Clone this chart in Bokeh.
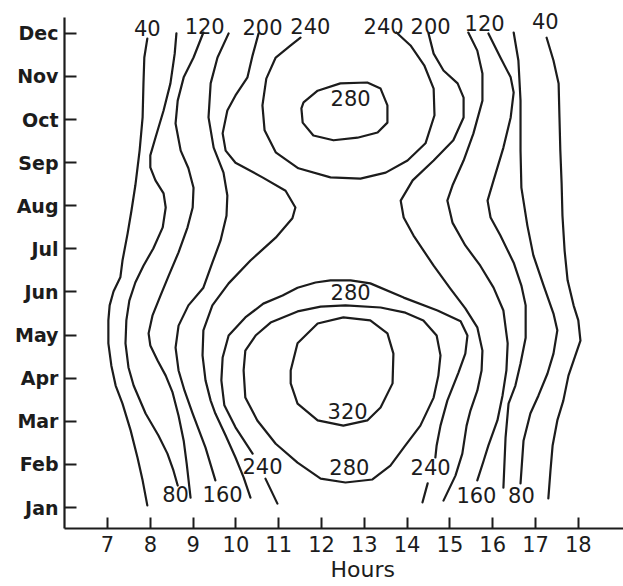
from bokeh.plotting import figure
from bokeh.models import Range1d, FixedTicker, Title, ColumnDataSource
from bokeh.embed import file_html
from bokeh.resources import INLINE
from bokeh.core.properties import value

NAN = float("nan")

MONTHS = ["Jan", "Feb", "Mar", "Apr", "May", "Jun", "Jul", "Aug", "Sep", "Oct", "Nov", "Dec"]
MONTH_POS = [1, 2, 3, 4, 5, 6, 7, 8, 9, 10, 11, 12]
HOUR_TICKS = [7, 8, 9, 10, 11, 12, 13, 14, 15, 16, 17, 18]

# ---- isolines (hours, month) ----
C40_W_H = [7.93, 7.86, 7.84, 7.82, 7.75, 7.65, 7.56, 7.47, 7.35, 7.30, 7.14, 7.05, 7.02, 7.02, 7.09, 7.19, 7.35, 7.54, 7.70, 7.82, 7.93]
C40_W_M = [11.88, 11.44, 10.84, 10.05, 9.28, 8.47, 7.89, 7.36, 6.73, 6.34, 6.01, 5.69, 5.34, 4.81, 4.29, 3.83, 3.41, 2.79, 2.16, 1.63, 1.05]

C80_W_H = [8.61, 8.57, 8.47, 8.31, 8.12, 8.00, 8.00, 8.12, 8.31, 8.36, 8.29, 8.07, 7.84, 7.65, 7.51, 7.44, 7.42, 7.49, 7.61, 7.89, 8.19, 8.40, 8.54, 8.64]
C80_W_M = [12.00, 11.53, 10.84, 10.21, 9.58, 9.17, 8.89, 8.59, 8.29, 7.96, 7.50, 7.01, 6.61, 6.22, 5.80, 5.34, 4.81, 4.25, 3.83, 3.18, 2.67, 2.25, 1.86, 1.51]

C120_W_H = [9.24, 9.01, 8.78, 8.64, 8.59, 8.71, 8.89, 9.01, 8.99, 8.87, 8.66, 8.43, 8.24, 8.05, 7.96, 8.00, 8.17, 8.36, 8.52, 8.66, 8.78, 8.85, 8.94]
C120_W_M = [12.02, 11.44, 10.98, 10.44, 9.91, 9.28, 8.87, 8.42, 7.96, 7.50, 6.92, 6.38, 5.92, 5.45, 5.04, 4.76, 4.41, 4.06, 3.67, 3.13, 2.55, 2.02, 1.23]

C160_W_H = [9.83, 9.57, 9.41, 9.36, 9.48, 9.71, 9.80, 9.78, 9.64, 9.45, 9.24, 8.89, 8.66, 8.59, 8.66, 8.80, 8.99, 9.29, 9.52]
C160_W_M = [12.00, 11.44, 10.84, 10.05, 9.35, 8.77, 8.24, 7.77, 7.19, 6.68, 6.10, 5.69, 5.22, 4.71, 4.18, 3.71, 3.18, 2.39, 1.63]

C200_W_H = [10.53, 10.39, 10.27, 9.99, 9.80, 9.69, 9.76, 9.99, 10.62, 11.16, 11.39, 11.32, 10.93, 10.34, 9.83, 9.45, 9.24, 9.22, 9.29, 9.41, 9.52, 9.76, 9.99, 10.18, 10.34]
C200_W_M = [12.00, 11.49, 10.98, 10.56, 10.21, 9.68, 9.28, 9.00, 8.66, 8.35, 7.96, 7.71, 7.26, 6.73, 6.20, 5.69, 5.11, 4.53, 3.95, 3.48, 3.18, 2.67, 2.16, 1.70, 1.23]

C240_N_H = [11.51, 11.28, 10.93, 10.71, 10.62, 10.67, 10.93, 11.46, 12.21, 12.91, 13.50, 14.01, 14.43, 14.64, 14.62, 14.40, 14.08, 13.75]
C240_N_M = [11.90, 11.72, 11.44, 10.95, 10.33, 9.75, 9.24, 8.87, 8.66, 8.63, 8.77, 9.05, 9.45, 10.10, 10.72, 11.26, 11.72, 12.02]

C280_N_H = [11.58, 11.91, 12.44, 13.07, 13.38, 13.54, 13.54, 13.31, 12.84, 12.28, 11.81, 11.56, 11.53, 11.58]
C280_N_M = [10.40, 10.67, 10.84, 10.86, 10.72, 10.33, 9.93, 9.70, 9.58, 9.52, 9.63, 9.93, 10.26, 10.40]

C240_S_H = [10.97, 10.69, NAN, 10.39, 9.99, 9.73, 9.66, 9.69, 9.83, 10.22, 10.64, 11.09, 11.44, 11.86, 12.21, 12.68, 13.14, 13.92, 14.71, 15.25, 15.41, 15.36, 15.20, 14.94, 14.78, 14.69, 14.66, NAN, 14.48, 14.36]
C240_S_M = [1.09, 1.67, NAN, 2.25, 2.86, 3.37, 3.95, 4.48, 4.99, 5.41, 5.73, 5.92, 6.10, 6.22, 6.27, 6.27, 6.20, 5.87, 5.57, 5.32, 4.99, 4.57, 4.13, 3.48, 2.90, 2.44, 2.16, NAN, 1.56, 1.12]

C280_S_H = [10.18, 10.22, 10.46, 10.81, 11.44, 11.98, 12.56, 13.38, 13.96, 14.38, 14.69, 14.78, 14.73, 14.62, 14.31, 13.96, 13.61, 13.19, 12.56, 11.98, 11.44, 10.93, 10.50, 10.22, 10.18]
C280_S_M = [4.18, 4.64, 4.99, 5.29, 5.55, 5.66, 5.69, 5.64, 5.52, 5.34, 4.99, 4.53, 4.06, 3.55, 2.90, 2.44, 1.97, 1.65, 1.58, 1.67, 2.04, 2.48, 3.02, 3.55, 4.18]

C320_H = [11.28, 11.44, 11.91, 12.51, 13.14, 13.54, 13.68, 13.66, 13.38, 13.07, 12.51, 11.91, 11.44, 11.28, 11.28]
C320_M = [4.18, 4.81, 5.27, 5.41, 5.34, 5.04, 4.57, 3.88, 3.32, 3.02, 2.90, 3.02, 3.41, 3.88, 4.18]

C200_E_H = [14.50, 14.62, 14.85, 15.18, 15.32, 15.32, 15.08, 14.62, 14.13, 13.85, 13.92, 14.15, 14.62, 15.01, 15.36, 15.64, 15.76, 15.74, 15.64, 15.48, 15.39, 15.29, 15.13, 14.85]
C200_E_M = [12.00, 11.53, 11.14, 10.84, 10.51, 10.05, 9.52, 9.05, 8.59, 8.12, 7.73, 7.31, 6.61, 6.08, 5.62, 5.18, 4.64, 4.18, 3.71, 3.25, 2.90, 2.25, 1.74, 1.16]

C160_E_H = [15.43, 15.64, 15.76, 15.76, 15.55, 15.32, 15.06, 14.94, 15.06, 15.36, 15.71, 16.02, 16.25, 16.35, 16.32, 16.23, 16.11, 15.90, 15.79, 15.64]
C160_E_M = [12.02, 11.60, 11.07, 10.44, 9.68, 9.05, 8.47, 8.12, 7.61, 7.08, 6.61, 6.10, 5.57, 4.81, 4.18, 3.60, 3.02, 2.44, 2.09, 1.63]

C120_E_H = [15.90, 16.18, 16.42, 16.49, 16.42, 16.25, 16.02, 15.88, 15.95, 16.18, 16.49, 16.67, 16.77, 16.77, 16.65, 16.53, 16.37, 16.30, 16.25]
C120_E_M = [12.00, 11.44, 10.98, 10.63, 10.05, 9.35, 8.59, 8.12, 7.73, 7.31, 6.68, 6.15, 5.69, 4.94, 4.34, 3.83, 3.41, 2.62, 1.46]

C80_E_H = [16.49, 16.60, 16.65, 16.65, 16.67, 16.81, 16.95, 17.19, 17.42, 17.51, 17.42, 17.28, 17.07, 16.88, 16.72, 16.65]
C80_E_M = [12.02, 11.37, 10.44, 9.28, 8.42, 7.54, 6.85, 6.15, 5.50, 5.11, 4.57, 4.11, 3.60, 3.18, 2.55, 1.56]

C40_E_H = [17.26, 17.42, 17.54, 17.56, 17.58, 17.61, 17.63, 17.68, 17.75, 17.89, 18.00, 18.05, 17.89, 17.77, 17.65, 17.51, 17.40, 17.35, 17.30]
C40_E_M = [11.90, 11.37, 10.84, 10.05, 9.28, 8.52, 7.77, 6.96, 6.27, 5.69, 5.34, 4.87, 4.41, 4.06, 3.48, 3.02, 2.44, 1.86, 1.21]

# ---- isoline value labels ----
LABEL_TEXT = ["40", "120", "200", "240", "240", "200", "120", "40",
              "280", "280", "320", "280", "240", "240", "80", "160", "160", "80"]
LABEL_H = [7.93, 9.27, 10.62, 11.74, 13.45, 14.55, 15.81, 17.23,
           12.68, 12.68, 12.61, 12.65, 10.62, 14.55, 8.59, 9.69, 15.62, 16.67]
LABEL_M = [12.13, 12.16, 12.15, 12.16, 12.16, 12.16, 12.23, 12.28,
           10.51, 5.99, 3.23, 1.93, 1.97, 1.93, 1.32, 1.32, 1.30, 1.30]

X_START, X_END = 5.995, 19.056
Y_START, Y_END = 0.513, 12.763
Y_AXIS_TOP = 12.37

INK = "#1c1c1c"

p = figure(width=623, height=586, output_backend="svg", toolbar_location=None,
           x_range=Range1d(X_START, X_END), y_range=Range1d(Y_START, Y_END),
           min_border_left=64, min_border_right=0, min_border_top=0, min_border_bottom=58)
p.outline_line_color = None
p.xgrid.visible = False
p.ygrid.visible = False
p.background_fill_color = "white"
p.border_fill_color = "white"

lines = [
    (C40_W_H, C40_W_M), (C80_W_H, C80_W_M), (C120_W_H, C120_W_M), (C160_W_H, C160_W_M),
    (C200_W_H, C200_W_M), (C240_N_H, C240_N_M), (C280_N_H, C280_N_M), (C240_S_H, C240_S_M),
    (C280_S_H, C280_S_M), (C320_H, C320_M), (C200_E_H, C200_E_M), (C160_E_H, C160_E_M),
    (C120_E_H, C120_E_M), (C80_E_H, C80_E_M), (C40_E_H, C40_E_M),
]
for hx, my in lines:
    p.line(hx, my, line_color=INK, line_width=2.2, line_join="round", line_cap="round")

src = ColumnDataSource(dict(x=LABEL_H, y=LABEL_M, t=LABEL_TEXT))
p.text(x="x", y="y", text="t", source=src, text_align="center", text_baseline="middle",
       text_font=value("DejaVu Sans"), text_font_size="21px", text_color=INK)

# axes
for ax in (p.xaxis, p.yaxis):
    ax.axis_line_color = INK
    ax.axis_line_width = 2.2
    ax.major_tick_line_color = INK
    ax.major_tick_line_width = 2
    ax.minor_tick_line_color = None
    ax.major_tick_out = 0
    ax.major_label_text_color = INK

p.yaxis.ticker = FixedTicker(ticks=MONTH_POS)
p.yaxis.major_label_overrides = {m: name for m, name in zip(MONTH_POS, MONTHS)}
p.yaxis.major_tick_in = 12
p.yaxis.major_label_standoff = 6
p.yaxis.major_label_text_font = "DejaVu Sans"
p.yaxis.major_label_text_font_style = "bold"
p.yaxis.major_label_text_font_size = "19px"
p.yaxis.bounds = (Y_START, Y_AXIS_TOP)

p.xaxis.ticker = FixedTicker(ticks=HOUR_TICKS)
p.xaxis.major_tick_in = 11
p.xaxis.major_label_standoff = 7
p.xaxis.major_label_text_font = "DejaVu Sans"
p.xaxis.major_label_text_font_size = "21px"

p.add_layout(Title(text="Hours", align="left", offset=266, standoff=0,
                   text_font="DejaVu Sans", text_font_style="normal",
                   text_font_size="22px", text_color=INK), "below")

open("out.html", "w").write(file_html(p, INLINE))
